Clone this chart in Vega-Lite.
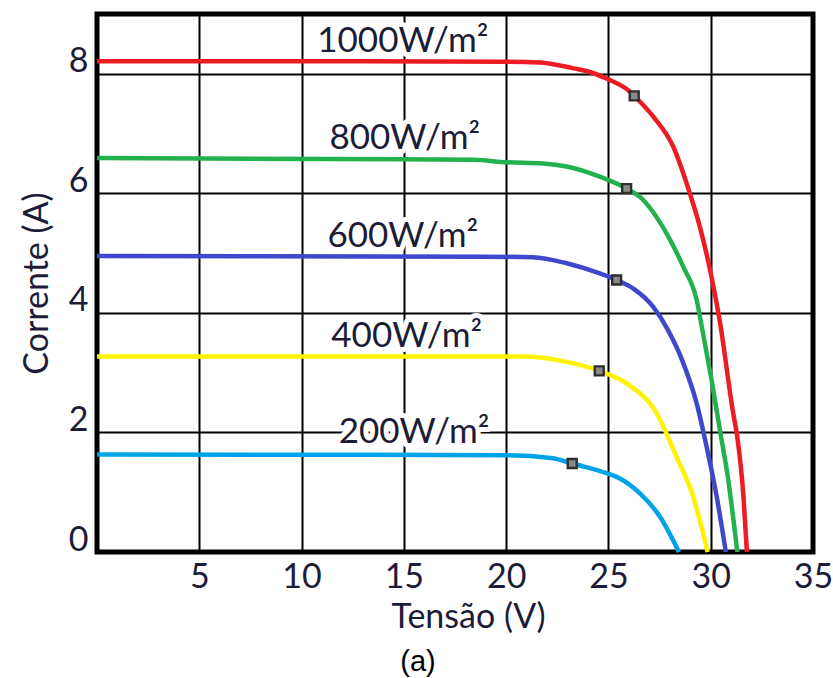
{
  "$schema": "https://vega.github.io/schema/vega-lite/v6.json",
  "width": 716,
  "height": 538,
  "autosize": {"type": "none"},
  "padding": {"left": 97, "top": 14, "right": 20, "bottom": 126},
  "background": "white",
  "config": {
    "view": {"stroke": "black", "strokeWidth": 5},
    "axis": {
      "grid": true,
      "gridColor": "black",
      "gridWidth": 2,
      "gridOpacity": 1,
      "domain": false,
      "ticks": false,
      "labelFont": "Lato",
      "labelFontSize": 34,
      "labelColor": "#1c1c38",
      "titleFont": "Lato",
      "titleFontSize": 34,
      "titleFontWeight": "normal",
      "titleColor": "#1c1c38",
      "labelFlush": false,
      "labelOverlap": false
    }
  },
  "title": {
    "text": "(a)",
    "orient": "bottom",
    "anchor": "middle",
    "font": "Liberation Sans",
    "fontSize": 29,
    "fontWeight": "normal",
    "color": "black",
    "offset": 14,
    "dx": -37
  },
  "datasets": {
    "curves": [
      {"g": "1000", "v": 0, "i": 8.21}, {"g": "1000", "v": 10, "i": 8.21}, {"g": "1000", "v": 20, "i": 8.2},
      {"g": "1000", "v": 21.65, "i": 8.19}, {"g": "1000", "v": 23.3, "i": 8.09}, {"g": "1000", "v": 24.1, "i": 8.03},
      {"g": "1000", "v": 24.9, "i": 7.92}, {"g": "1000", "v": 26.05, "i": 7.7}, {"g": "1000", "v": 26.26, "i": 7.63},
      {"g": "1000", "v": 27.2, "i": 7.28}, {"g": "1000", "v": 28.17, "i": 6.78}, {"g": "1000", "v": 28.98, "i": 6.0},
      {"g": "1000", "v": 29.47, "i": 5.44}, {"g": "1000", "v": 30.04, "i": 4.6}, {"g": "1000", "v": 30.45, "i": 3.85},
      {"g": "1000", "v": 31.1, "i": 2.32}, {"g": "1000", "v": 31.27, "i": 1.99}, {"g": "1000", "v": 31.6, "i": 0.93},
      {"g": "1000", "v": 31.77, "i": 0},

      {"g": "800", "v": 0, "i": 6.59}, {"g": "800", "v": 14.8, "i": 6.57}, {"g": "800", "v": 18.4, "i": 6.56},
      {"g": "800", "v": 20.02, "i": 6.52}, {"g": "800", "v": 21.8, "i": 6.5}, {"g": "800", "v": 22.96, "i": 6.45},
      {"g": "800", "v": 24.58, "i": 6.28}, {"g": "800", "v": 25.89, "i": 6.08}, {"g": "800", "v": 26.54, "i": 5.94},
      {"g": "800", "v": 27.84, "i": 5.33}, {"g": "800", "v": 28.66, "i": 4.77}, {"g": "800", "v": 29.31, "i": 4.22},
      {"g": "800", "v": 29.6, "i": 3.7}, {"g": "800", "v": 30.04, "i": 2.88}, {"g": "800", "v": 30.45, "i": 2.04},
      {"g": "800", "v": 30.86, "i": 1.2}, {"g": "800", "v": 31.3, "i": 0},

      {"g": "600", "v": 0, "i": 4.95}, {"g": "600", "v": 18.88, "i": 4.94}, {"g": "600", "v": 21.3, "i": 4.93},
      {"g": "600", "v": 22.96, "i": 4.83}, {"g": "600", "v": 24.58, "i": 4.66}, {"g": "600", "v": 25.4, "i": 4.55},
      {"g": "600", "v": 26.2, "i": 4.41}, {"g": "600", "v": 27.19, "i": 4.1}, {"g": "600", "v": 27.9, "i": 3.72},
      {"g": "600", "v": 28.66, "i": 3.16}, {"g": "600", "v": 29.31, "i": 2.49}, {"g": "600", "v": 29.8, "i": 1.76},
      {"g": "600", "v": 30.29, "i": 0.93}, {"g": "600", "v": 30.74, "i": 0},

      {"g": "400", "v": 0, "i": 3.27}, {"g": "400", "v": 20.84, "i": 3.27}, {"g": "400", "v": 22.96, "i": 3.18},
      {"g": "400", "v": 24.55, "i": 3.03}, {"g": "400", "v": 25.89, "i": 2.82}, {"g": "400", "v": 27.36, "i": 2.32},
      {"g": "400", "v": 28.33, "i": 1.59}, {"g": "400", "v": 29.14, "i": 0.93}, {"g": "400", "v": 29.85, "i": 0},

      {"g": "200", "v": 0, "i": 1.63}, {"g": "200", "v": 20.02, "i": 1.62}, {"g": "200", "v": 22.3, "i": 1.57},
      {"g": "200", "v": 23.23, "i": 1.48}, {"g": "200", "v": 24.9, "i": 1.32}, {"g": "200", "v": 25.56, "i": 1.23},
      {"g": "200", "v": 26.54, "i": 0.98}, {"g": "200", "v": 27.52, "i": 0.59}, {"g": "200", "v": 28.45, "i": 0}
    ],
    "mpp": [
      {"g": "1000", "v": 26.26, "i": 7.63},
      {"g": "800", "v": 25.89, "i": 6.08},
      {"g": "600", "v": 25.4, "i": 4.55},
      {"g": "400", "v": 24.55, "i": 3.03},
      {"g": "200", "v": 23.23, "i": 1.48}
    ],
    "labels": [
      {"g": "1000", "text": "1000W/m²", "v": 14.95, "i": 8.37},
      {"g": "800", "text": "800W/m²", "v": 15.05, "i": 6.75},
      {"g": "600", "text": "600W/m²", "v": 14.95, "i": 5.1},
      {"g": "400", "text": "400W/m²", "v": 15.14, "i": 3.43},
      {"g": "200", "text": "200W/m²", "v": 15.5, "i": 1.82}
    ]
  },
  "encoding": {
    "x": {
      "field": "v",
      "type": "quantitative",
      "scale": {"domain": [0, 35], "nice": false, "zero": false},
      "axis": {
        "title": "Tensão (V)",
        "values": [5, 10, 15, 20, 25, 30, 35],
        "labelPadding": 8,
        "titlePadding": 6,
        "titleX": 371,
        "titleAnchor": "middle"
      }
    },
    "y": {
      "field": "i",
      "type": "quantitative",
      "scale": {"domain": [0, 9], "nice": false},
      "axis": {
        "title": "Corrente (A)",
        "values": [0, 2, 4, 6, 8],
        "labelPadding": 9,
        "labelOffset": -12,
        "titlePadding": 14
      }
    }
  },
  "layer": [
    {
      "data": {"name": "labels"},
      "mark": {
        "type": "text",
        "font": "Lato",
        "fontSize": 35,
        "align": "center",
        "baseline": "alphabetic",
        "fill": "white",
        "stroke": "white",
        "strokeWidth": 10,
        "strokeJoin": "round"
      },
      "encoding": {"text": {"field": "text"}}
    },
    {
      "data": {"name": "curves"},
      "mark": {"type": "line", "strokeWidth": 4.5, "interpolate": "monotone"},
      "encoding": {
        "color": {
          "field": "g",
          "type": "nominal",
          "scale": {
            "domain": ["1000", "800", "600", "400", "200"],
            "range": ["#ed1c24", "#22b14c", "#3f48cc", "#fff200", "#00a2e8"]
          },
          "legend": null
        }
      }
    },
    {
      "data": {"name": "mpp"},
      "mark": {
        "type": "point",
        "shape": "square",
        "size": 80,
        "filled": true,
        "fill": "#8a8a8a",
        "stroke": "#2e2e2e",
        "strokeWidth": 2.4,
        "opacity": 1
      },
      "encoding": {}
    },
    {
      "data": {"name": "labels"},
      "mark": {
        "type": "text",
        "font": "Lato",
        "fontSize": 35,
        "align": "center",
        "baseline": "alphabetic",
        "fill": "#1c1c38"
      },
      "encoding": {"text": {"field": "text"}}
    }
  ]
}
